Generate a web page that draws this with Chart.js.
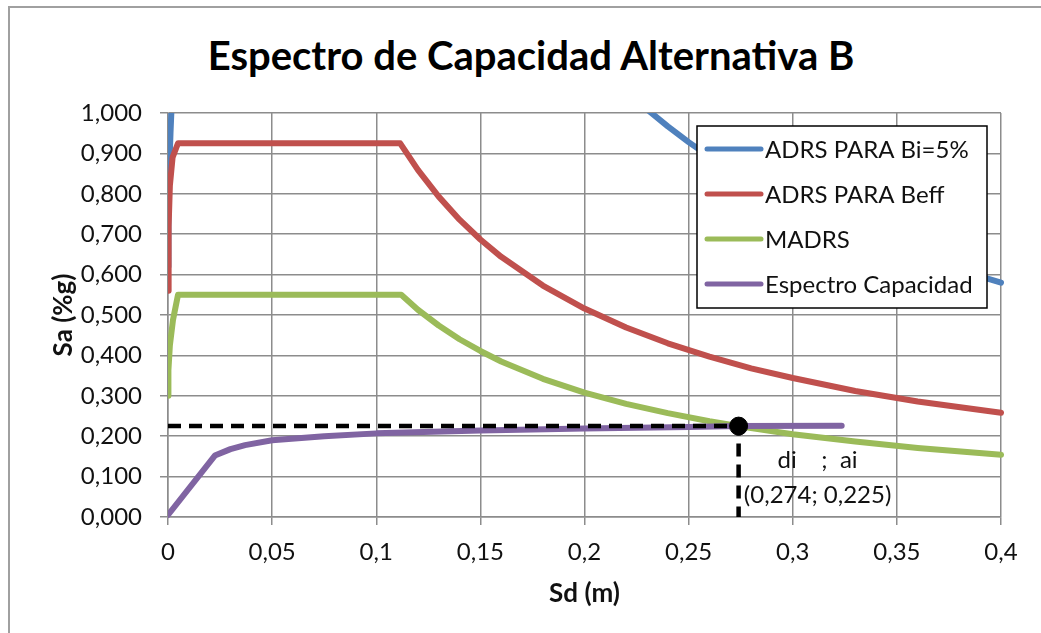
<!DOCTYPE html>
<html lang="es">
<head>
<meta charset="utf-8">
<title>Espectro de Capacidad Alternativa B</title>
<script src="https://cdn.jsdelivr.net/npm/chart.js@4.4.1/dist/chart.umd.min.js"></script>
<style>
  html, body { margin: 0; padding: 0; background: #fff; }
  #frame { position: relative; width: 1041px; height: 633px; overflow: hidden; font-family: Lato, "Open Sans", sans-serif; }
  #frame::before { content: ""; position: absolute; left: 8px; top: 6px; width: 2000px; height: 2000px;
    border-left: 2px solid #a0a0a0; border-top: 2px solid #a0a0a0; }
  #title { position: absolute; left: 0; width: 1062px; top: 29px; line-height: 52px; text-align: center;
    font-weight: 700; font-size: 40px; color: #000; }
  canvas { position: absolute; left: 0; top: 0; }
</style>
</head>
<body>
<div id="frame">
  <div id="title">Espectro de Capacidad Alternativa B</div>
  <canvas id="chart" width="1041" height="633"></canvas>
</div>
<script>
// series
const seriesNames = ["ADRS PARA Bi=5%", "ADRS PARA Beff", "MADRS", "Espectro Capacidad"];
const seriesColors = ["#4F81BD", "#C0504D", "#9BBB59", "#8064A2"];

const sdBi5 = [0, 0.0002, 0.0006, 0.0012, 0.0016, 0.0048, 0.15, 0.16, 0.18, 0.2, 0.22, 0.23, 0.24, 0.25, 0.26, 0.27, 0.28, 0.3, 0.32, 0.34, 0.36, 0.38, 0.4];
const saBi5 = [0.62, 0.75, 0.86, 0.95, 1.0, 1.55, 1.55, 1.45, 1.289, 1.16, 1.055, 1.009, 0.967, 0.928, 0.892, 0.859, 0.829, 0.773, 0.725, 0.682, 0.644, 0.611, 0.58];

const sdBeff = [0, 0.0003, 0.0009, 0.0022, 0.0048, 0.1115, 0.12, 0.13, 0.14, 0.15, 0.16, 0.18, 0.2, 0.22, 0.24, 0.26, 0.28, 0.3, 0.33, 0.36, 0.4];
const saBeff = [0.56, 0.72, 0.82, 0.89, 0.925, 0.925, 0.859, 0.793, 0.736, 0.687, 0.644, 0.573, 0.516, 0.469, 0.43, 0.397, 0.368, 0.344, 0.312, 0.286, 0.258];

const sdMadrs = [0, 0.0002, 0.0009, 0.0024, 0.0048, 0.112, 0.12, 0.13, 0.14, 0.15, 0.16, 0.18, 0.2, 0.22, 0.24, 0.26, 0.28, 0.3, 0.33, 0.36, 0.4];
const saMadrs = [0.3, 0.363, 0.425, 0.488, 0.55, 0.55, 0.513, 0.474, 0.44, 0.411, 0.385, 0.342, 0.308, 0.28, 0.257, 0.237, 0.22, 0.205, 0.187, 0.171, 0.154];

const sdCap = [0, 0.0225, 0.03, 0.037, 0.05, 0.075, 0.1, 0.15, 0.2, 0.25, 0.274, 0.3235];
const saCap = [0.005, 0.152, 0.168, 0.178, 0.19, 0.2, 0.207, 0.214, 0.219, 0.223, 0.225, 0.226];

// punto de desempeño
const ptSd = [0.274];
const ptSa = [0.225];

const xTickLabels = ["0", "0,05", "0,1", "0,15", "0,2", "0,25", "0,3", "0,35", "0,4"];
const yTickLabels = ["0,000", "0,100", "0,200", "0,300", "0,400", "0,500", "0,600", "0,700", "0,800", "0,900", "1,000"];

const gridColor = "#8c8c8c";
const textColor = "#111";

const toPoints = (xs, ys) => xs.map((x, i) => ({ x: x, y: ys[i] }));
const comma = (v) => String(v).replace(".", ",");

Chart.defaults.font.family = "Lato, 'Open Sans', sans-serif";
Chart.defaults.color = textColor;

// etiqueta del punto y recuadro de leyenda dentro del área de trazado
const boxLegend = {
  id: "boxLegend",
  afterDatasetsDraw(chart) {
    const { ctx, chartArea, scales } = chart;

    const px = scales.x.getPixelForValue(ptSd[0]);
    const py = scales.y.getPixelForValue(ptSa[0]);
    ctx.save();
    ctx.font = "24px Lato, 'Open Sans', sans-serif";
    ctx.fillStyle = textColor;
    ctx.textAlign = "center";
    ctx.textBaseline = "middle";
    ctx.fillText("di    ;  ai", px + 79, py + 34);
    ctx.fillText("(" + comma(ptSd[0]) + "; " + comma(ptSa[0]) + ")", px + 79, py + 69);
    ctx.restore();

    const left = chartArea.right - 304, top = chartArea.top + 13, w = 290, h = 182;
    ctx.save();
    ctx.fillStyle = "#fff";
    ctx.fillRect(left, top, w, h);
    ctx.strokeStyle = "#000";
    ctx.lineWidth = 1.5;
    ctx.strokeRect(left, top, w, h);
    ctx.font = "24px Lato, 'Open Sans', sans-serif";
    ctx.textBaseline = "middle";
    ctx.textAlign = "left";
    seriesNames.forEach((name, i) => {
      const y = top + 23 + i * 45;
      ctx.strokeStyle = seriesColors[i];
      ctx.lineWidth = 5;
      ctx.lineCap = "round";
      ctx.beginPath();
      ctx.moveTo(left + 10, y);
      ctx.lineTo(left + 64, y);
      ctx.stroke();
      ctx.fillStyle = textColor;
      ctx.fillText(name, left + 68, y + 1);
    });
    ctx.restore();
  }
};

const lineSet = (i, data, order, clip) => ({
  label: seriesNames[i],
  data: data,
  showLine: true,
  borderColor: seriesColors[i],
  backgroundColor: seriesColors[i],
  borderWidth: 6,
  borderJoinStyle: "round",
  borderCapStyle: "round",
  pointRadius: 0,
  order: order,
  clip: clip
});

new Chart(document.getElementById("chart"), {
  type: "scatter",
  data: {
    datasets: [
      lineSet(0, toPoints(sdBi5, saBi5), 6, { left: 0, top: 0, right: 3, bottom: 3 }),
      lineSet(1, toPoints(sdBeff, saBeff), 5, { left: 0, top: 3, right: 3, bottom: 3 }),
      lineSet(2, toPoints(sdMadrs, saMadrs), 4, { left: 0, top: 3, right: 3, bottom: 3 }),
      lineSet(3, toPoints(sdCap, saCap), 3, { left: 0, top: 3, right: 3, bottom: 4 }),
      {
        label: "guia",
        data: [{ x: 0, y: ptSa[0] }, { x: ptSd[0], y: ptSa[0] }, { x: ptSd[0], y: 0 }],
        showLine: true,
        borderColor: "#000",
        borderWidth: 4.5,
        borderDash: [13, 8],
        pointRadius: 0,
        order: 2,
        clip: 3
      },
      {
        label: "punto",
        data: toPoints(ptSd, ptSa),
        showLine: false,
        pointRadius: 9,
        pointBackgroundColor: "#000",
        pointBorderColor: "#000",
        order: 1,
        clip: false
      }
    ]
  },
  options: {
    responsive: false,
    animation: false,
    layout: { padding: { left: 30, right: 40, top: 113, bottom: 10 } },
    plugins: {
      legend: { display: false },
      tooltip: { enabled: false },
      title: { display: false }
    },
    scales: {
      x: {
        type: "linear",
        min: 0,
        max: 0.4,
        ticks: {
          stepSize: 0.05,
          autoSkip: false,
          maxRotation: 0,
          padding: 13,
          font: { size: 24 },
          color: textColor,
          callback: (v, i) => xTickLabels[i]
        },
        grid: { color: gridColor, lineWidth: 1.5, tickLength: 8 },
        border: { color: gridColor, width: 1.5 },
        title: { display: true, text: "Sd (m)", color: textColor, font: { size: 26, weight: "bold" }, padding: { top: 0, bottom: 14 } },
        afterFit: (s) => { s.height = 106; }
      },
      y: {
        type: "linear",
        min: 0,
        max: 1,
        ticks: {
          stepSize: 0.1,
          padding: 18,
          font: { size: 24 },
          color: textColor,
          callback: (v, i) => yTickLabels[i]
        },
        grid: { color: gridColor, lineWidth: 1.5, tickLength: 8 },
        border: { color: gridColor, width: 1.5 },
        title: { display: true, text: "Sa (%g)", color: textColor, font: { size: 26, weight: "bold" }, padding: { top: 18, bottom: 0 } },
        afterFit: (s) => { s.width = 138; }
      }
    }
  },
  plugins: [boxLegend]
});
</script>
</body>
</html>
